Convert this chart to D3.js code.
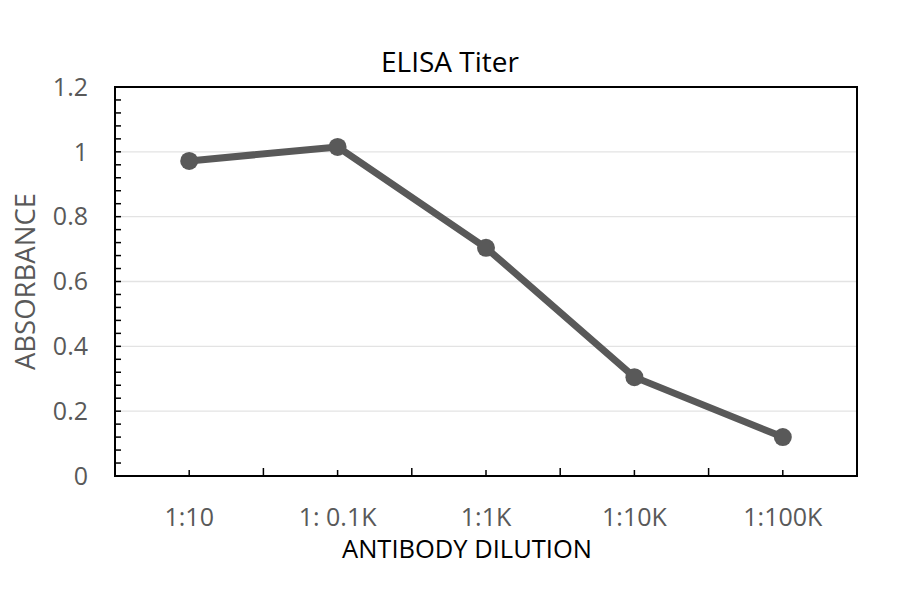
<!DOCTYPE html>
<html>
<head>
<meta charset="utf-8">
<script src="https://cdn.jsdelivr.net/npm/d3@7"></script>
<style>
  body { margin: 0; background: #fff; }
  text { font-family: 'Open Sans', sans-serif; }
</style>
</head>
<body>
<svg width="900" height="594"></svg>
<script>
'use strict'

const dilutions = ['1:10', '1: 0.1K', '1:1K', '1:10K', '1:100K']
const absorbance = [0.972, 1.015, 0.704, 0.305, 0.12]
const yTicks = [0, 0.2, 0.4, 0.6, 0.8, 1, 1.2]

const margin = { top: 87, right: 43, bottom: 118, left: 115 }
const width = 900 - margin.left - margin.right
const height = 594 - margin.top - margin.bottom

const svg = d3.select('svg')
const g = svg.append('g').attr('transform', `translate(${margin.left},${margin.top})`)

const x = d3.scaleBand().domain(dilutions).range([0, width])
const y = d3.scaleLinear().domain([0, 1.2]).range([height, 0])

// gridlines
g.selectAll('line.grid').data(yTicks.slice(1, -1))
  .enter()
  .append('line')
  .classed('grid', true)
  .attr('x1', 0).attr('x2', width)
  .attr('y1', (d) => y(d)).attr('y2', (d) => y(d))
  .style('stroke', '#e3e3e3')
  .style('stroke-width', 1.3)

// minor ticks on y, inside
g.selectAll('line.ytick').data(d3.range(0, 1.2001, 0.04))
  .enter()
  .append('line')
  .classed('ytick', true)
  .attr('x1', 0).attr('x2', 6)
  .attr('y1', (d) => y(d)).attr('y2', (d) => y(d))
  .style('stroke', '#000')
  .style('stroke-width', 1.5)

// x ticks: short at category centers, longer at boundaries
const boundaries = dilutions.slice(1).map((d) => x(d))
g.selectAll('line.xbound').data(boundaries)
  .enter()
  .append('line')
  .classed('xbound', true)
  .attr('x1', (d) => d).attr('x2', (d) => d)
  .attr('y1', height).attr('y2', height - 8)
  .style('stroke', '#000')
  .style('stroke-width', 1.5)
g.selectAll('line.xcenter').data(dilutions)
  .enter()
  .append('line')
  .classed('xcenter', true)
  .attr('x1', (d) => x(d) + x.bandwidth() / 2).attr('x2', (d) => x(d) + x.bandwidth() / 2)
  .attr('y1', height).attr('y2', height - 6)
  .style('stroke', '#000')
  .style('stroke-width', 1.5)

// frame
g.append('rect')
  .attr('width', width).attr('height', height)
  .style('fill', 'none')
  .style('stroke', '#000')
  .style('stroke-width', 2)

// tick labels
g.selectAll('text.ylab').data(yTicks)
  .enter()
  .append('text')
  .classed('ylab', true)
  .attr('x', -27)
  .attr('y', (d) => y(d))
  .attr('dy', '0.35em')
  .attr('text-anchor', 'end')
  .style('font-size', '25px')
  .style('fill', '#595959')
  .text((d) => d3.format('~g')(d))

g.selectAll('text.xlab').data(dilutions)
  .enter()
  .append('text')
  .classed('xlab', true)
  .attr('x', (d) => x(d) + x.bandwidth() / 2)
  .attr('y', height + 50)
  .attr('text-anchor', 'middle')
  .style('font-size', '25px')
  .style('fill', '#595959')
  .text((d) => d)

// series
const line = d3.line()
  .x((d, i) => x(dilutions[i]) + x.bandwidth() / 2)
  .y((d) => y(d))

g.append('path')
  .datum(absorbance)
  .attr('d', line)
  .style('fill', 'none')
  .style('stroke', '#595959')
  .style('stroke-width', 7)
  .style('stroke-linejoin', 'round')

g.selectAll('circle.pt').data(absorbance)
  .enter()
  .append('circle')
  .classed('pt', true)
  .attr('r', 9)
  .attr('cx', (d, i) => x(dilutions[i]) + x.bandwidth() / 2)
  .attr('cy', (d) => y(d))
  .style('fill', '#595959')

// titles
svg.append('text')
  .attr('x', 450).attr('y', 72)
  .attr('text-anchor', 'middle')
  .style('font-size', '28px')
  .style('fill', '#000')
  .text('ELISA Titer')

svg.append('text')
  .attr('x', 467).attr('y', 558)
  .attr('text-anchor', 'middle')
  .style('font-size', '25.5px')
  .style('fill', '#000')
  .text('ANTIBODY DILUTION')

svg.append('text')
  .attr('transform', `translate(35,${margin.top + height / 2}) rotate(-90)`)
  .attr('text-anchor', 'middle')
  .style('font-size', '27.5px')
  .style('fill', '#595959')
  .text('ABSORBANCE')
</script>
</body>
</html>
